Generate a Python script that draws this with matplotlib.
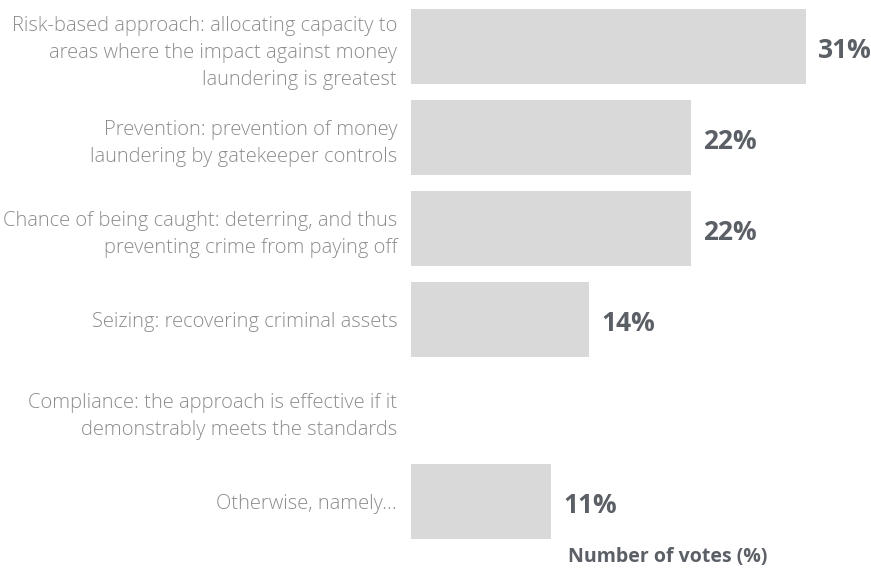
import matplotlib
matplotlib.use("Agg")
import matplotlib.pyplot as plt

categories = [
    "Risk-based approach: allocating capacity to\nareas where the impact against money\nlaundering is greatest",
    "Prevention: prevention of money\nlaundering by gatekeeper controls",
    "Chance of being caught: deterring, and thus\npreventing crime from paying off",
    "Seizing: recovering criminal assets",
    "Compliance: the approach is effective if it\ndemonstrably meets the standards",
    "Otherwise, namely...",
]
votes = [31, 22, 22, 14, 0, 11]
value_labels = ["31%", "22%", "22%", "14%", "", "11%"]
axis_title = "Number of votes (%)"

BAR_COLOR = "#d9d9d9"
LABEL_COLOR = "#8c8c8c"
VALUE_COLOR = "#5b5f66"

plt.rcParams["font.family"] = ["Open Sans", "DejaVu Sans"]

fig = plt.figure(figsize=(8.71, 5.69), dpi=100)
ax = fig.add_axes([0.4719, 0.0378, 0.5281, 0.9596])

y = list(range(len(categories)))
ax.barh(y, votes, height=0.824, color=BAR_COLOR, edgecolor="none")
ax.set_ylim(len(categories) - 0.5, -0.5)
ax.set_xlim(0, 36.1)

ax.set_yticks(y)
ax.set_yticklabels(categories, fontsize=14.5, color=LABEL_COLOR,
                   fontweight="light", linespacing=1.45, ha="right")
ax.tick_params(axis="y", length=0, pad=10)
ax.set_xticks([])
for s in ax.spines.values():
    s.set_visible(False)

for yi, v, lab in zip(y, votes, value_labels):
    if lab:
        ax.annotate(lab, xy=(v, yi), xytext=(8.5, -2.5), textcoords="offset points",
                    ha="left", va="center", fontsize=19, fontweight="bold",
                    color=VALUE_COLOR)

fig.text(668 / 871, 1 - 557 / 569, axis_title, ha="center", va="center",
         fontsize=14, fontweight="bold", color=VALUE_COLOR)

fig.savefig("out.png", dpi=100)
